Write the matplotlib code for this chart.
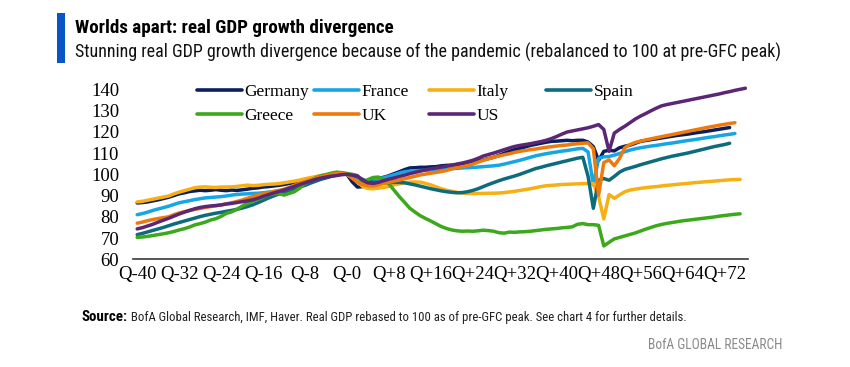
import matplotlib
matplotlib.use('Agg')
import matplotlib.pyplot as plt
from matplotlib import font_manager
from matplotlib.patches import Rectangle
from matplotlib.legend import Legend

# Quarters relative to each country's pre-GFC peak (Q-0), every series starts at Q-40
start_q = -40

germany = [86.5, 86.7, 87.0, 87.5, 88.0, 88.6, 89.2, 90.0, 90.8, 91.3,
           91.9, 92.2, 92.5, 92.3, 92.5, 92.8, 92.5, 92.3, 92.6, 92.4,
           92.7, 93.0, 93.4, 93.6, 94.0, 94.2, 94.5, 94.8, 95.2, 95.7,
           96.2, 96.6, 97.0, 97.7, 98.4, 99.0, 99.6, 100.2, 100.8, 100.6,
           100.0, 96.5, 94.0, 94.2, 95.5, 96.8, 98.0, 98.6, 99.3, 100.3,
           101.2, 102.2, 103.0, 103.1, 103.3, 103.3, 103.5, 103.6, 104.0, 104.2,
           104.3, 104.6, 104.8, 105.3, 105.5, 106.1, 106.8, 107.4, 108.0, 108.9,
           109.9, 110.8, 111.6, 112.2, 112.9, 113.6, 114.1, 114.6, 115.1, 115.5,
           115.6, 115.8, 116.0, 115.8, 116.0, 116.0, 115.2, 113.0, 106.5, 110.8,
           111.3, 111.0, 112.5, 113.2, 113.7, 114.6, 115.5, 115.9, 116.3, 116.7,
           117.1, 117.5, 117.9, 118.3, 118.6, 118.9, 119.3, 119.7, 120.0, 120.4,
           120.8, 121.2, 121.6, 122.0]

france = [81.0, 81.5, 82.2, 83.0, 83.7, 84.3, 85.0, 85.8, 86.6, 87.1,
          87.6, 88.1, 88.5, 88.9, 89.1, 89.3, 89.5, 89.8, 90.2, 90.5,
          90.7, 90.8, 91.0, 91.1, 91.3, 91.6, 91.9, 92.2, 92.6, 93.2,
          93.9, 94.7, 95.5, 96.3, 97.2, 97.9, 98.5, 99.2, 99.8, 100.3,
          100.0, 99.0, 97.7, 96.5, 96.8, 97.3, 97.8, 98.4, 99.0, 99.8,
          100.6, 101.2, 101.5, 101.6, 101.8, 101.9, 102.0, 102.0, 102.2, 102.4,
          102.6, 102.8, 103.0, 103.1, 103.2, 103.4, 103.6, 103.8, 104.0, 104.3,
          104.8, 105.4, 106.0, 106.6, 107.3, 108.0, 108.7, 109.2, 109.7, 110.1,
          110.5, 110.9, 111.2, 111.6, 112.0, 112.2, 110.5, 95.0, 107.5, 108.2,
          108.4, 109.0, 109.8, 110.6, 111.4, 112.0, 112.5, 112.9, 113.3, 113.6,
          114.0, 114.4, 114.7, 115.1, 115.5, 115.9, 116.2, 116.6, 117.0, 117.4,
          117.7, 118.1, 118.5, 118.8, 119.2]

italy = [87.0, 87.3, 87.8, 88.3, 88.8, 89.3, 89.8, 90.8, 91.6, 92.3,
         93.0, 93.7, 94.0, 94.1, 93.9, 93.8, 94.0, 94.0, 94.1, 94.3,
         94.6, 94.9, 94.7, 94.8, 95.1, 95.3, 95.4, 95.6, 96.0, 96.4,
         96.8, 97.3, 97.9, 98.4, 98.9, 99.4, 99.9, 100.3, 100.5, 100.2,
         100.0, 98.5, 96.5, 94.3, 93.3, 93.2, 93.5, 93.8, 94.3, 95.0,
         95.5, 96.0, 96.3, 96.4, 96.3, 95.7, 95.0, 94.1, 93.2, 92.5,
         92.0, 91.5, 91.2, 91.0, 90.9, 91.0, 91.0, 91.1, 91.1, 91.2,
         91.4, 91.7, 92.0, 92.4, 92.8, 93.2, 93.7, 94.2, 94.6, 94.8,
         95.0, 95.2, 95.3, 95.4, 95.5, 95.6, 95.7, 95.7, 89.5, 79.0,
         90.5, 88.7, 90.3, 91.8, 92.6, 93.0, 93.4, 93.7, 94.0, 94.2,
         94.5, 94.8, 95.0, 95.3, 95.5, 95.7, 96.0, 96.2, 96.4, 96.6,
         96.8, 97.0, 97.2, 97.4, 97.5, 97.6]

spain = [71.6, 72.2, 72.9, 73.6, 74.3, 75.0, 75.8, 76.6, 77.3, 78.0,
         78.7, 79.4, 80.1, 80.7, 81.2, 81.7, 82.1, 82.6, 83.0, 83.5,
         84.1, 84.8, 85.6, 86.6, 87.7, 88.8, 89.8, 90.7, 91.6, 92.4,
         93.2, 94.0, 94.8, 95.8, 96.7, 97.6, 98.3, 99.0, 99.6, 100.1,
         100.0, 99.6, 98.7, 97.6, 96.7, 96.3, 96.1, 96.0, 96.1, 96.2,
         96.2, 96.0, 95.5, 95.0, 94.4, 93.8, 93.2, 92.7, 92.2, 91.8,
         91.5, 91.3, 91.4, 91.8, 92.4, 93.2, 94.2, 95.2, 96.1, 97.0,
         97.8, 98.5, 99.2, 100.0, 100.9, 101.8, 102.7, 103.3, 104.0, 104.6,
         105.2, 105.8, 106.4, 107.0, 107.6, 108.0, 99.0, 84.0, 97.2, 98.0,
         97.2, 99.0, 101.0, 102.3, 103.0, 103.7, 104.5, 105.2, 105.9, 106.6,
         107.3, 107.9, 108.5, 109.0, 109.5, 110.0, 110.6, 111.2, 111.8, 112.4,
         113.0, 113.5, 114.0, 114.6]

greece = [70.3, 70.5, 70.8, 71.2, 71.6, 72.0, 72.5, 73.1, 73.8, 74.4,
          75.2, 76.2, 76.8, 77.5, 78.5, 79.1, 80.2, 81.6, 82.3, 83.5,
          85.0, 86.2, 87.3, 88.2, 89.2, 90.2, 90.8, 91.0, 90.2, 91.0,
          91.8, 93.5, 95.7, 97.0, 98.3, 99.3, 99.8, 100.5, 101.0, 100.8,
          100.4, 100.0, 99.4, 96.0, 97.5, 98.5, 98.7, 97.5, 95.5, 92.5,
          89.5, 86.8, 84.0, 82.2, 80.5, 79.2, 78.0, 76.7, 75.4, 74.5,
          73.8, 73.4, 73.2, 73.3, 73.2, 73.4, 73.7, 73.5, 73.2, 72.5,
          72.3, 72.8, 72.7, 72.9, 73.0, 73.2, 73.5, 73.8, 74.1, 74.3,
          74.5, 74.8, 75.0, 75.3, 76.5, 76.8, 76.3, 76.3, 76.0, 66.3,
          68.0, 69.6, 70.3, 71.0, 71.7, 72.4, 73.3, 74.2, 75.0, 75.8,
          76.4, 76.9, 77.3, 77.7, 78.1, 78.4, 78.7, 79.0, 79.3, 79.6,
          79.9, 80.3, 80.6, 80.9, 81.2, 81.4]

uk = [77.0, 77.5, 78.2, 78.7, 79.2, 79.6, 80.0, 81.0, 81.8, 82.4,
      83.0, 83.5, 83.9, 84.4, 84.8, 85.2, 85.6, 86.1, 86.6, 87.2,
      87.9, 88.7, 89.5, 90.2, 90.8, 91.4, 91.9, 92.4, 93.0, 93.8,
      94.8, 95.8, 96.6, 97.4, 98.1, 98.8, 99.4, 99.9, 100.4, 100.5,
      100.0, 98.2, 96.2, 95.2, 94.6, 94.5, 95.0, 95.7, 96.2, 96.8,
      97.3, 97.9, 98.5, 99.1, 99.7, 100.1, 100.5, 100.9, 101.3, 101.8,
      102.6, 103.2, 103.6, 104.2, 104.8, 105.7, 106.6, 107.3, 108.0, 108.6,
      109.2, 109.7, 110.3, 110.8, 111.2, 111.6, 111.9, 112.3, 112.7, 113.0,
      113.3, 113.6, 113.8, 114.1, 114.4, 114.6, 114.8, 112.0, 90.2, 105.5,
      106.8, 104.0, 107.5, 112.5, 114.0, 115.0, 115.6, 116.2, 116.7, 117.2,
      117.7, 118.2, 118.7, 119.2, 119.7, 120.2, 120.7, 121.2, 121.7, 122.2,
      122.6, 123.1, 123.5, 123.9, 124.3]

us = [74.3, 74.9, 75.7, 76.5, 77.5, 78.4, 79.3, 80.3, 81.3, 82.2,
      83.0, 83.8, 84.4, 84.8, 85.1, 85.3, 85.6, 86.0, 86.3, 86.7,
      87.1, 87.5, 88.0, 88.7, 89.6, 90.4, 91.2, 91.9, 92.6, 93.5,
      94.3, 95.2, 96.0, 96.8, 97.6, 98.2, 98.7, 99.1, 99.4, 99.8,
      100.0, 99.6, 99.2, 97.3, 96.0, 95.7, 96.2, 97.0, 97.7, 98.3,
      99.0, 99.6, 100.3, 100.9, 101.5, 102.1, 102.6, 103.0, 103.4, 103.8,
      104.3, 104.8, 105.3, 105.9, 106.6, 107.5, 108.6, 109.3, 110.0, 110.8,
      111.6, 112.4, 113.1, 113.6, 114.0, 114.4, 114.9, 115.4, 116.0, 116.8,
      117.8, 118.9, 119.9, 120.4, 120.9, 121.4, 121.9, 122.6, 123.4, 121.1,
      110.8, 119.4, 121.1, 122.6, 124.3, 126.0, 127.4, 128.6, 129.9, 131.1,
      132.2, 132.8, 133.3, 133.8, 134.3, 134.8, 135.3, 135.8, 136.3, 136.8,
      137.3, 137.8, 138.4, 138.9, 139.5, 140.0, 140.5]

names = ['Germany', 'France', 'Italy', 'Spain', 'Greece', 'UK', 'US']
values = [germany, france, italy, spain, greece, uk, us]
colors = ['#0b1f5e', '#17a6e4', '#f6b014', '#0d6b7e', '#3ca81c', '#ee7a0c', '#5c2677']

tick_q = list(range(-40, 73, 8))
tick_labels = ['Q-40', 'Q-32', 'Q-24', 'Q-16', 'Q-8', 'Q-0', 'Q+8', 'Q+16',
               'Q+24', 'Q+32', 'Q+40', 'Q+48', 'Q+56', 'Q+64', 'Q+72']
y_ticks = [60, 70, 80, 90, 100, 110, 120, 130, 140]

title = 'Worlds apart: real GDP growth divergence'
subtitle = ('Stunning real GDP growth divergence because of the pandemic '
            '(rebalanced to 100 at pre-GFC peak)')
source_bold = 'Source:'
source_text = (' BofA Global Research, IMF, Haver. Real GDP rebased to 100 as of '
               'pre-GFC peak. See chart 4 for further details.')
brand = 'BofA GLOBAL RESEARCH'

# fonts
available = {f.name for f in font_manager.fontManager.ttflist}
narrow = None
for fam in ['Liberation Sans Narrow', 'Roboto Condensed', 'Open Sans Condensed']:
    if fam in available:
        narrow = fam
        break
if narrow is None:
    narrow_kw = dict(family='DejaVu Sans', fontstretch='condensed')
else:
    narrow_kw = dict(family=narrow)
serif = 'Liberation Serif' if 'Liberation Serif' in available else 'DejaVu Serif'

W, H = 850, 367
fig = plt.figure(figsize=(W / 100, H / 100), dpi=100)
fig.patch.set_facecolor('white')

ax_l, ax_r, ax_b, ax_t = 133, 748, 259.3, 89.3
ax = fig.add_axes([ax_l / W, 1 - ax_b / H, (ax_r - ax_l) / W, (ax_b - ax_t) / H])

lines = []
for name, vals, col in zip(names, values, colors):
    q = list(range(start_q, start_q + len(vals)))
    ln, = ax.plot(q, vals, color=col, lw=2.5, label=name, clip_on=False,
                  solid_capstyle='round', solid_joinstyle='round')
    lines.append(ln)

ax.set_xlim(-40.8, 76.5)
ax.set_ylim(60, 140)
ax.set_xticks(tick_q)
ax.set_xticklabels(tick_labels)
ax.set_yticks(y_ticks)
ax.tick_params(axis='both', length=0, labelsize=13.5, labelcolor='black')
ax.tick_params(axis='y', pad=10)
ax.tick_params(axis='x', pad=5)
for lab in ax.get_xticklabels() + ax.get_yticklabels():
    lab.set_family(serif)
for s in ['top', 'right', 'left']:
    ax.spines[s].set_visible(False)
ax.spines['bottom'].set_color('#3a3a3a')
ax.spines['bottom'].set_linewidth(1.2)
ax.set_facecolor('none')

# legend: fixed-width columns like the original
columns = [[0, 4], [1, 5], [2, 6], [3]]
col_x = [197, 314, 429, 546]
for idx, x0 in zip(columns, col_x):
    leg = Legend(ax, [lines[i] for i in idx], [names[i] for i in idx],
                 loc='upper left', bbox_to_anchor=(x0 / W, 1 - 83.5 / H),
                 bbox_transform=fig.transFigure, frameon=False,
                 borderpad=0, borderaxespad=0, handlelength=2.6,
                 handletextpad=0.15, labelspacing=0.48,
                 prop={'family': serif, 'size': 12.5})
    for h in leg.legend_handles:
        h.set_linewidth(2.6)
    ax.add_artist(leg)

renderer = fig.canvas.get_renderer()


def fit_width(txt, target_px):
    w = txt.get_window_extent(renderer=renderer).width
    txt.set_fontsize(txt.get_fontsize() * target_px / w)


# header
fig.add_artist(Rectangle((57 / W, 1 - 63.3 / H), 8 / W, 50.6 / H,
                         transform=fig.transFigure, color='#0a55c6', lw=0))
t1 = fig.text(75 / W, 1 - 32.7 / H, title, va='baseline', ha='left',
              fontsize=13, fontweight='bold', color='black', **narrow_kw)
fit_width(t1, 391.5 - 75)
t2 = fig.text(75 / W, 1 - 57.3 / H, subtitle, va='baseline', ha='left',
              fontsize=13, color='#111111', **narrow_kw)
fit_width(t2, 777 - 75)

# footer
s1 = fig.text(81.7 / W, 1 - 320.7 / H, source_bold, va='baseline', ha='left',
              fontsize=9, fontweight='bold', color='black', **narrow_kw)
s2 = fig.text(0, 1 - 320.7 / H, source_text, va='baseline', ha='left',
              fontsize=9, color='#222222', **narrow_kw)
fit_width(s1, 128 - 81.7)
s2.set_fontsize(s1.get_fontsize())
fit_width(s2, 686 - 128)
s1_right = s1.get_window_extent(renderer=renderer).x1
s2.set_x(s1_right / W)

b = fig.text(782 / W, 1 - 349 / H, brand, va='baseline', ha='right',
             fontsize=9, color='#8a8a8a', **narrow_kw)
fit_width(b, 782 - 647)

fig.savefig('out.png', dpi=100, facecolor='white')
